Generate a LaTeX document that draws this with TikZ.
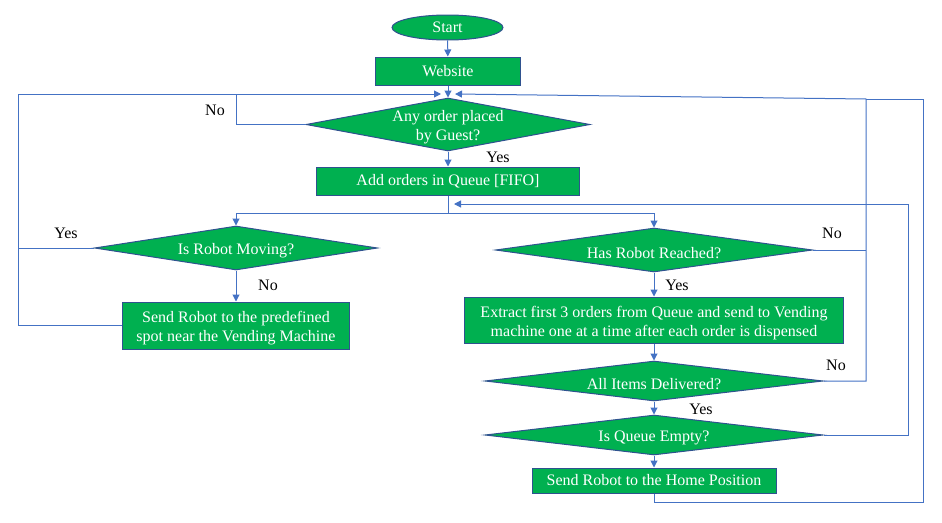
\documentclass[tikz,border=0pt]{standalone}
\usepackage{fontspec}
\setmainfont{Liberation Serif}
\usetikzlibrary{shapes.geometric,arrows.meta}
\definecolor{fgreen}{HTML}{00B050}
\definecolor{fborder}{HTML}{2F528F}
\definecolor{lblue}{HTML}{4472C4}
\begin{document}
\begin{tikzpicture}[x=1pt,y=-1pt,
 every node/.style={font=\fontsize{16}{19}\selectfont},
 box/.style={draw=fborder,fill=fgreen,text=white,line width=1pt,inner sep=0pt,align=center},
 dia/.style={shape=diamond,draw=fborder,fill=fgreen,line width=1pt,inner sep=0pt},
 dtext/.style={text=white,align=center,inner sep=0pt,yshift=-3pt},
 conn/.style={draw=lblue,line width=1pt},
 arr/.style={conn,-{Triangle[length=7pt,width=7pt]}},
 lab/.style={text=black,inner sep=0pt}]
\useasboundingbox (0,0) rectangle (942,522);

% shapes
\node[box,shape=ellipse,minimum width=111pt,minimum height=25pt] (start) at (447.5,27.5) {Start};
\node[box,minimum width=145pt,minimum height=28pt] (web) at (448,71) {Website};
\node[dia,minimum width=284pt,minimum height=53pt,label={[dtext]center:{Any order placed\\by Guest?}}] (d1) at (448,124.5) {};
\node[box,minimum width=263pt,minimum height=28pt] (add) at (448,181) {Add orders in Queue [FIFO]};
\node[dia,minimum width=283pt,minimum height=44pt,label={[dtext]center:Is Robot Moving?}] (d2) at (236,248) {};
\node[box,minimum width=227pt,minimum height=47pt,label={[dtext]center:{Send Robot to the predefined\\spot near the Vending Machine}}] (send) at (236,325.5) {};
\node[dia,minimum width=317pt,minimum height=44pt,label={[dtext]center:Has Robot Reached?}] (d3) at (654,250) {};
\node[box,minimum width=379pt,minimum height=46pt,label={[dtext]center:{Extract first 3 orders from Queue and send to Vending\\machine one at a time after each order is dispensed}}] (ext) at (654,320) {};
\node[dia,minimum width=338pt,minimum height=40pt,label={[dtext]center:All Items Delivered?}] (d4) at (654,381) {};
\node[dia,minimum width=338pt,minimum height=40pt,label={[dtext]center:Is Queue Empty?}] (d5) at (654,435) {};
\node[box,minimum width=244pt,minimum height=25pt] (home) at (654,480.5) {Send Robot to the Home Position};

% free ends
\coordinate (inL) at (441,94);
\coordinate (inR) at (455,94);
\coordinate (split) at (448,213);
\coordinate (inQ) at (454,204);

% connectors
\draw[arr] (start) -- (web);
\draw[arr] (web) -- (d1);
\draw[conn] (d1.west) -- (236,124.5) -- (236,94);
\draw[arr] (d1) -- (add);
\draw[conn] (add) -- (split);
\draw[arr] (split) -| (d2.north);
\draw[arr] (split) -| (d3.north);
\draw[conn] (d2.west) -- (18,248);
\draw[arr] (send.west) -| (18,94) -- (inL);
\draw[arr] (d2) -- (send);
\draw[conn] (d3.east) -- (866,250);
\draw[arr] (d4.east) -- (866,381) -- (866,99) -- (inR);
\draw[arr] (d3) -- (ext);
\draw[arr] (ext) -- (d4);
\draw[arr] (d4) -- (d5);
\draw[arr] (d5.east) -- (908,435) -- (908,204) -- (inQ);
\draw[arr] (d5) -- (home);
\draw[conn] (home.south) -- (654,502) -- (923,502) -- (923,99) -- (866,99);

% labels
\node[lab] (l1) at (215,110) {No};
\node[lab] (l2) at (498,157) {Yes};
\node[lab] (l3) at (66,233) {Yes};
\node[lab] (l4) at (268,285) {No};
\node[lab] (l5) at (677,285) {Yes};
\node[lab] (l6) at (832,233) {No};
\node[lab] (l7) at (836,365) {No};
\node[lab] (l8) at (701,409) {Yes};
\end{tikzpicture}
\end{document}
